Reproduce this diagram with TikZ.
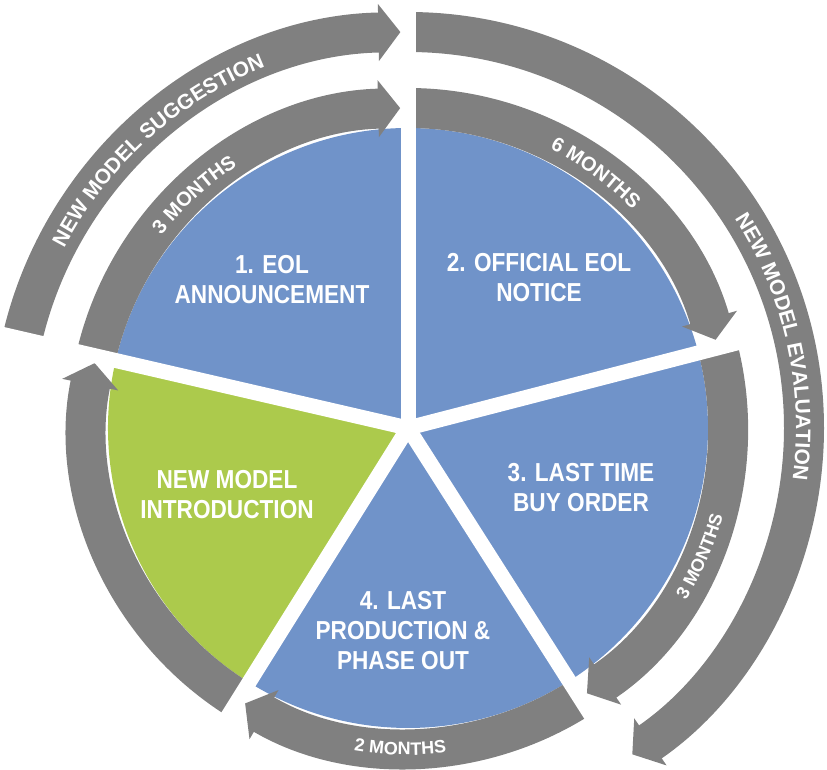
\documentclass[tikz,border=0pt]{standalone}
\usepackage{fontspec}
\setmainfont{Liberation Sans}
\newfontfamily\condfont[FakeStretch=0.87]{Liberation Sans}
\usetikzlibrary{arrows.meta}
\usetikzlibrary{decorations.text}

\definecolor{stageblue}{RGB}{112,147,201}
\definecolor{stagegreen}{RGB}{172,202,76}
\definecolor{bandgray}{RGB}{128,128,128}

\newcommand{\outerfont}{\bfseries\fontsize{21}{21}\selectfont}
\newcommand{\topfont}{\bfseries\fontsize{20}{20}\selectfont}
\newcommand{\innerfont}{\bfseries\fontsize{18}{18}\selectfont}

\begin{document}
\begin{tikzpicture}[x=1pt,y=1pt,
	band/.style={draw=bandgray, line width=40pt, -{Triangle[width=56pt,length=22pt]}},
	gap/.style={draw=white, line width=15pt},
	stagelabel/.style={text=white, align=center, font=\condfont\bfseries\fontsize{26}{30}\selectfont},
	arclabel/.style={decorate, decoration={text along path, text align=center, text color=white, text={#1}}}]
		\useasboundingbox (-408,-342) rectangle (419,428);
		% stages
		\fill[stageblue] (0,0) -- (90:300) arc[start angle=90, end angle=167, radius=300] -- cycle;
		\fill[stagegreen] (0,0) -- (167:300) arc[start angle=167, end angle=238, radius=300] -- cycle;
		\fill[stageblue] (0,0) -- (238:300) arc[start angle=238, end angle=302.5, radius=300] -- cycle;
		\fill[stageblue] (0,0) -- (302.5:300) arc[start angle=302.5, end angle=374.5, radius=300] -- cycle;
		\fill[stageblue] (0,0) -- (14.5:300) arc[start angle=14.5, end angle=90, radius=300] -- cycle;
		% inner arrows
		\draw[band] (167:320) arc[start angle=167, end angle=91.4, radius=320];
		\draw[band] (90:320) arc[start angle=90, end angle=16, radius=320];
		\draw[band] (14.5:320) arc[start angle=14.5, end angle=-56, radius=320];
		\draw[band] (-57.5:320) arc[start angle=-57.5, end angle=-120.6, radius=320];
		\draw[band] (-122:320) arc[start angle=-122, end angle=-191.7, radius=320];
		% outer arrows
		\draw[band] (167:396) arc[start angle=167, end angle=91.1, radius=396];
		\draw[band] (90:396) arc[start angle=90, end angle=-55.5, radius=396];
		% gaps
		\draw[gap] (0,0) -- (90:440);
		\draw[gap] (0,0) -- (167:440);
		\draw[gap] (0,0) -- (14.5:345);
		\draw[gap] (0,0) -- (-57.5:345);
		\draw[gap] (0,0) -- (-122:345);
		% stage texts
		\node[stagelabel] (eol) at (-136,148) {1. EOL\\ANNOUNCEMENT};
		\node[stagelabel] (notice) at (131,150) {2. OFFICIAL EOL\\NOTICE};
		\node[stagelabel] (lastbuy) at (173,-60) {3. LAST TIME\\BUY ORDER};
		\node[stagelabel] (phaseout) at (-5,-203) {4. LAST\\PRODUCTION \&\\PHASE OUT};
		\node[stagelabel] (intro) at (-181,-67) {NEW MODEL\\INTRODUCTION};
		% arc texts
		\path[arclabel={|\outerfont|NEW MODEL SUGGESTION}] (165:388) arc[start angle=165, end angle=99, radius=388];
		\path[arclabel={|\outerfont|NEW MODEL EVALUATION}] (60:388) arc[start angle=60, end angle=-35, radius=388];
		\path[arclabel={|\topfont|3 MONTHS}] (160:313) arc[start angle=160, end angle=105, radius=313];
		\path[arclabel={|\topfont|6 MONTHS}] (80:313) arc[start angle=80, end angle=27.2, radius=313];
		\path[arclabel={|\innerfont|3 MONTHS}] (-50:327) arc[start angle=-50, end angle=2.6, radius=327];
		\path[arclabel={|\innerfont|2 MONTHS}] (-118:327) arc[start angle=-118, end angle=-64.8, radius=327];
	\end{tikzpicture}
\end{document}
